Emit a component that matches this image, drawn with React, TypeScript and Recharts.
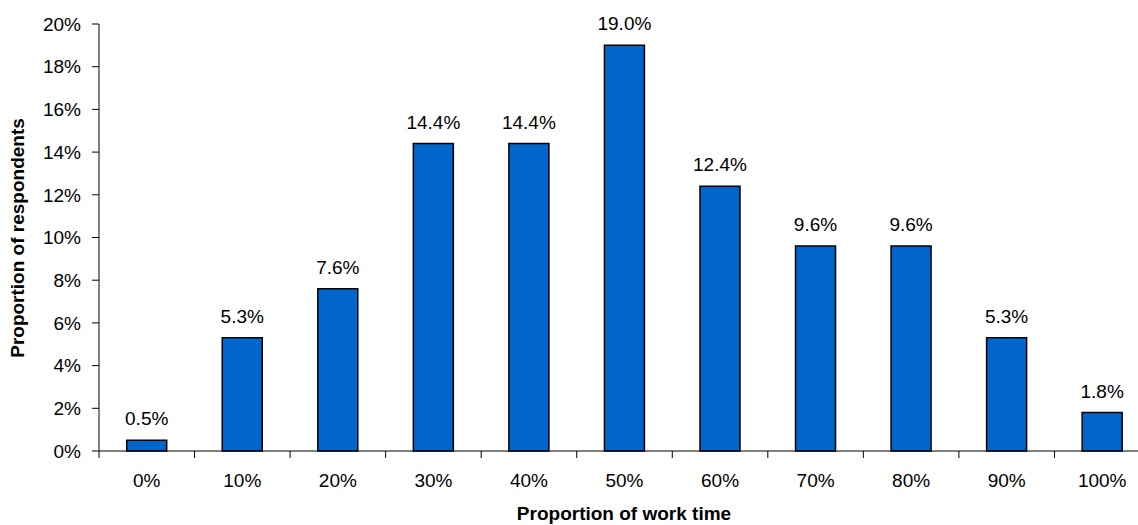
import React from 'react';
import { BarChart, Bar, XAxis, YAxis, LabelList } from 'recharts';

// Share of respondents by proportion of work time
const categories = ['0%', '10%', '20%', '30%', '40%', '50%', '60%', '70%', '80%', '90%', '100%'];
const shares = [0.5, 5.3, 7.6, 14.4, 14.4, 19.0, 12.4, 9.6, 9.6, 5.3, 1.8];
const yTicks = [0, 2, 4, 6, 8, 10, 12, 14, 16, 18, 20];

const data = categories.map((c, i) => ({ name: c, value: shares[i] }));

const FONT = '"Liberation Sans", Arial, Helvetica, sans-serif';
const FONT_SIZE = 19;
const CHART_W = 1160;
const CHART_H = 525;
const MARGIN = { top: 24, right: 10, bottom: 24, left: 0 };
const Y_AXIS_W = 99;
const X_AXIS_H = 50;
const TICK_SIZE = 7;
const PLOT_W = CHART_W - MARGIN.left - MARGIN.right - Y_AXIS_W;
const HALF_BAND = PLOT_W / categories.length / 2;

// Category label centred under the bar, with a tick mark on the left band edge
const XTick = (props: any) => {
  const { x, y, payload } = props;
  const axisY = y - TICK_SIZE;
  return (
    <g>
      <line x1={x - HALF_BAND} y1={axisY} x2={x - HALF_BAND} y2={axisY + TICK_SIZE} stroke="#000" strokeWidth={1} />
      <text x={x} y={axisY + 36} textAnchor="middle" fontFamily={FONT} fontSize={FONT_SIZE} fill="#000">
        {payload.value}
      </text>
    </g>
  );
};

const YTitle = () => (
  <text
    x={17}
    y={238}
    transform="rotate(-90 17 238)"
    textAnchor="middle"
    dominantBaseline="central"
    fontFamily={FONT}
    fontSize={FONT_SIZE}
    fontWeight="bold"
    fill="#000"
  >
    Proportion of respondents
  </text>
);

const XTitle = () => (
  <text x={624} y={520} textAnchor="middle" fontFamily={FONT} fontSize={FONT_SIZE} fontWeight="bold" fill="#000">
    Proportion of work time
  </text>
);

export default function App() {
  return (
    <div style={{ position: 'absolute', left: 0, top: 0, width: 1138, height: 525, overflow: 'hidden', background: '#fff' }}>
      <BarChart width={CHART_W} height={CHART_H} data={data} margin={MARGIN} barCategoryGap="29%">
        <XAxis
          dataKey="name"
          height={X_AXIS_H}
          tickLine={false}
          tickSize={TICK_SIZE}
          tickMargin={0}
          axisLine={{ stroke: '#000' }}
          tick={<XTick />}
          interval={0}
        />
        <YAxis
          width={Y_AXIS_W}
          domain={[0, 20]}
          ticks={yTicks}
          tickFormatter={(v: number) => `${v}%`}
          tickSize={TICK_SIZE}
          tickMargin={11}
          axisLine={{ stroke: '#000' }}
          tickLine={{ stroke: '#000' }}
          tick={{ fontFamily: FONT, fontSize: FONT_SIZE, fill: '#000' }}
          interval={0}
        />
        <Bar dataKey="value" fill="#0066CC" stroke="#000" strokeWidth={1.5} isAnimationActive={false}>
          <LabelList
            dataKey="value"
            position="top"
            offset={15}
            formatter={(v: number) => `${v.toFixed(1)}%`}
            style={{ fontFamily: FONT, fontSize: FONT_SIZE, fill: '#000' }}
          />
        </Bar>
        <YTitle />
        <XTitle />
      </BarChart>
    </div>
  );
}
